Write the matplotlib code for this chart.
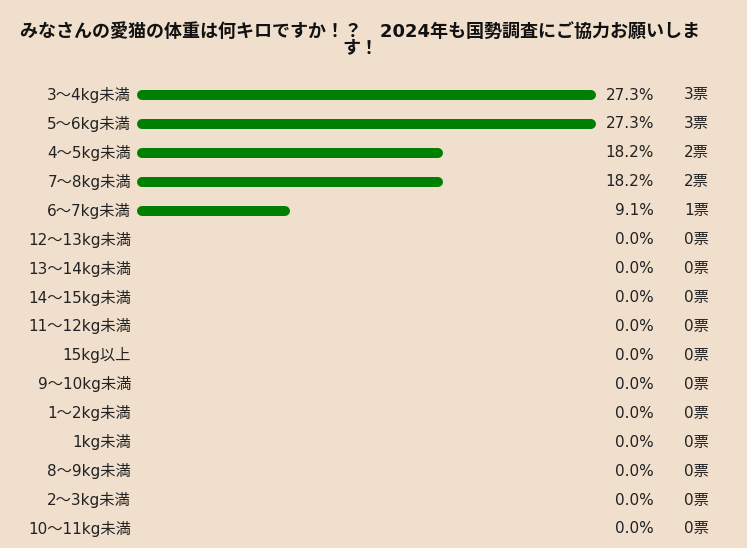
import matplotlib
matplotlib.use("Agg")
import matplotlib.pyplot as plt

plt.rcParams['font.family'] = ['DejaVu Sans', 'Noto Sans CJK JP']

title = "みなさんの愛猫の体重は何キロですか！？　2024年も国勢調査にご協力お願いしま\nす！"
categories = ["3～4kg未満", "5～6kg未満", "4～5kg未満", "7～8kg未満", "6～7kg未満",
              "12～13kg未満", "13～14kg未満", "14～15kg未満", "11～12kg未満", "15kg以上",
              "9～10kg未満", "1～2kg未満", "1kg未満", "8～9kg未満", "2～3kg未満", "10～11kg未満"]
percents = [27.3, 27.3, 18.2, 18.2, 9.1, 0, 0, 0, 0, 0, 0, 0, 0, 0, 0, 0]
votes = [3, 3, 2, 2, 1, 0, 0, 0, 0, 0, 0, 0, 0, 0, 0, 0]

BG = "#f0dfcc"
GREEN = "#008000"
W, H = 747, 548
fig = plt.figure(figsize=(W / 100, H / 100), dpi=100, facecolor=BG)
ax = fig.add_axes([0, 0, 1, 1])
ax.set_facecolor(BG)
ax.set_xlim(0, W)
ax.set_ylim(H, 0)
ax.axis('off')

fig.text(0.482, 1 - 40 / H, title, ha='center', va='center', fontsize=13,
         fontweight='bold', linespacing=0.82, color='#111111')

x0 = 137
full = 459 / 27.3
lw_px = 10
y0, dy = 95, 28.93
fs = 11
for i, (c, p, v) in enumerate(zip(categories, percents, votes)):
    y = y0 + i * dy
    ax.text(131, y, c, ha='right', va='center', fontsize=fs, color='#222222')
    if p > 0:
        x1 = x0 + p * full
        ax.plot([x0 + lw_px / 2, x1 - lw_px / 2], [y, y], color=GREEN,
                linewidth=lw_px * 0.72, solid_capstyle='round')
    ax.text(654, y, f"{p:.1f}%", ha='right', va='center', fontsize=fs, color='#222222')
    ax.text(709, y, f"{v}票", ha='right', va='center', fontsize=fs, color='#222222')

fig.savefig("out.png", dpi=100, facecolor=BG)
